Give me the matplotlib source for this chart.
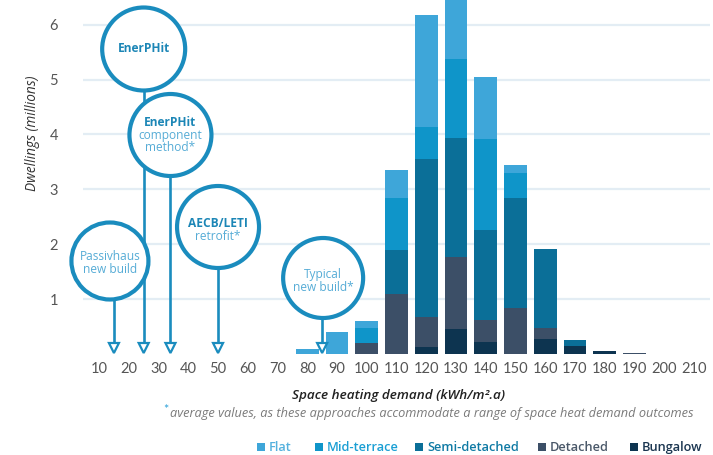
import matplotlib
matplotlib.use("Agg")
import matplotlib.pyplot as plt
from matplotlib.patches import Circle, Rectangle, Polygon

plt.rcParams['font.family'] = ['Lato', 'DejaVu Sans']
WIDE = ['Open Sans', 'DejaVu Sans']

# ---------------- data ----------------
demand = [80, 90, 100, 110, 120, 130, 140, 150, 160, 170, 180, 190]
flat = [0.10, 0.40, 0.12, 0.50, 2.03, 1.20, 1.12, 0.16, 0.00, 0.00, 0.00, 0.00]
mid_terrace = [0.00, 0.00, 0.28, 0.96, 0.58, 1.44, 1.66, 0.44, 0.00, 0.00, 0.00, 0.00]
semi_detached = [0.00, 0.00, 0.00, 0.80, 2.89, 2.17, 1.64, 2.01, 1.43, 0.10, 0.00, 0.00]
detached = [0.00, 0.00, 0.20, 1.09, 0.55, 1.32, 0.41, 0.84, 0.20, 0.00, 0.00, 0.02]
bungalow = [0.00, 0.00, 0.00, 0.00, 0.12, 0.45, 0.21, 0.00, 0.28, 0.15, 0.06, 0.00]

series_names = ["Flat", "Mid-terrace", "Semi-detached", "Detached", "Bungalow"]
series_values = [flat, mid_terrace, semi_detached, detached, bungalow]
bar_colors = ["#3ea6d9", "#0f95c9", "#0b6f98", "#3c4f67", "#0d3450"]
legend_text_colors = ["#55b1de", "#1a9fd4", "#0f7aa4", "#4a5869", "#1a3550"]

x_ticks = list(range(10, 220, 10))
y_ticks = [1, 2, 3, 4, 5, 6]

# standards pointed at by the circled callouts
standard_values = [25, 34, 15, 50, 85]
standard_lines = [
    [("EnerPHit", True)],
    [("EnerPHit", True), ("component", False), ("method*", False)],
    [("Passivhaus", False), ("new build", False)],
    [("AECB/LETI", True), ("retrofit*", False)],
    [("Typical", False), ("new build*", False)],
]
# layout of callouts (pixel centre y, radius, x offset from the stem, text centre shift)
callout_layout = [(49, 41.5, 0, 0), (135, 41, 0, 0), (261, 38.5, -4, 2), (227, 41, 0, 3), (278, 40, 1, 3)]

# ---------------- figure ----------------
W, H = 713, 455
fig = plt.figure(figsize=(W / 100, H / 100), dpi=100)
fig.patch.set_facecolor("white")
ax = fig.add_axes([83 / W, 101 / H, 627 / W, 354 / H])
ax.set_xlim(4.6, 215.4)
ax.set_ylim(0, 6.45)

bottom = [0.0] * len(demand)
for name, vals, col in reversed(list(zip(series_names, series_values, bar_colors))):
    ax.bar(demand, vals, width=7.7, bottom=bottom, color=col, linewidth=0, zorder=2)
    bottom = [b + v for b, v in zip(bottom, vals)]

ax.set_xticks(x_ticks)
ax.set_xticklabels([str(t) for t in x_ticks])
ax.set_yticks(y_ticks)
ax.set_yticklabels([str(t) for t in y_ticks])
ax.yaxis.grid(True, color="#e3edf4", lw=1.6)
ax.set_axisbelow(True)
for s in ax.spines.values():
    s.set_visible(False)
ax.tick_params(axis="both", length=0, labelsize=10.5, labelcolor="#555555")
ax.tick_params(axis="x", pad=6)
ax.tick_params(axis="y", pad=18)

fig.text(33 / W, 1 - 133 / H, "Dwellings (millions)", rotation=90, style="italic",
         fontsize=9.8, color="#333333", ha="center", va="center", family=WIDE)
fig.text(399 / W, 1 - 395 / H, "Space heating demand (kWh/m\u00b2.a)", style="italic",
         fontsize=9.7, color="#222222", ha="center", va="center", family=WIDE,
         fontweight="semibold")
fig.text(170 / W, 1 - 413 / H, "average values, as these approaches accommodate a range of space heat demand outcomes",
         style="italic", fontsize=9.2, color="#7a7a7a", ha="left", va="center", family=WIDE)
fig.text(166 / W, 1 - 410 / H, "*", fontsize=9, color="#2aa0d8", ha="center", va="center")

# ---------------- callouts overlay ----------------
ov = fig.add_axes([0, 0, 1, 1], zorder=5)
ov.set_xlim(0, W)
ov.set_ylim(H, 0)
ov.axis("off")
ov.patch.set_alpha(0)

C = "#1a8cbe"
for v, lines, (cy, r, dx, tshift) in zip(standard_values, standard_lines, callout_layout):
    xp = ax.transData.transform((v, 0))[0]
    ov.plot([xp, xp], [cy + r, 345], color=C, lw=1.9, zorder=1, solid_capstyle="butt")
    ov.add_patch(Polygon([(xp - 5, 343), (xp + 5, 343), (xp, 353)], closed=True,
                         fc="white", ec=C, lw=1.6, zorder=2))
    ov.add_patch(Circle((xp + dx, cy), r, fc="white", ec=C, lw=3.0, zorder=3))
    n = len(lines)
    sp = 12.5
    for i, (txt, bold) in enumerate(lines):
        yy = cy + tshift + (i - (n - 1) / 2) * sp
        ov.text(xp + dx, yy, txt, ha="center", va="center", fontsize=8.6,
                fontweight="bold" if bold else "normal", family=WIDE,
                color="#1c86b6" if bold else "#56acd6", zorder=4)

# ---------------- legend ----------------
legend_x = [257, 315, 415, 538, 630]
for lx, name, col, tcol in zip(legend_x, series_names, bar_colors, legend_text_colors):
    ov.add_patch(Rectangle((lx, 443), 8, 8, fc=col, ec="none", zorder=4))
    ov.text(lx + 12, 447.5, name, ha="left", va="center", fontsize=9.2,
            color=tcol, fontweight="semibold", family=WIDE, zorder=4)

fig.savefig("out.png", dpi=100)
